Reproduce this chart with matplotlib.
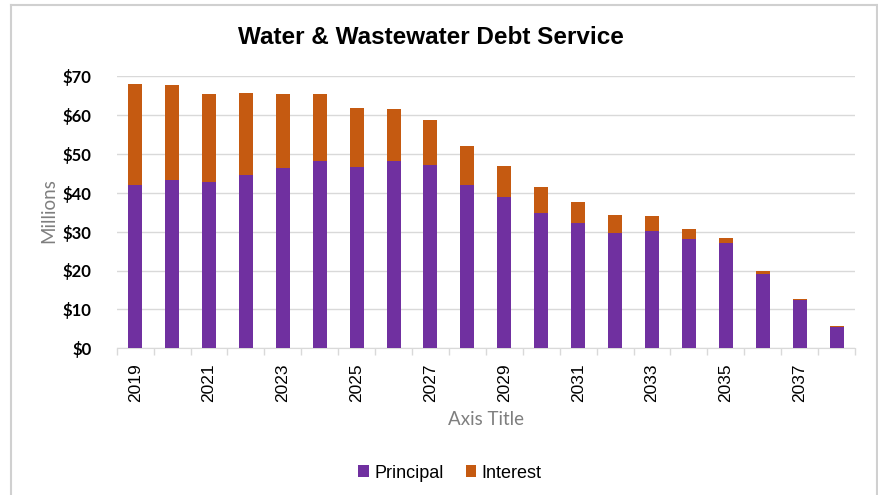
import matplotlib
matplotlib.use("Agg")
from matplotlib import pyplot as plt
from matplotlib.lines import Line2D
import numpy as np

years = list(range(2019, 2039))
principal = [42.1, 43.3, 42.8, 44.6, 46.4, 48.2, 46.7, 48.2, 47.2, 42.1,
             38.8, 34.7, 32.1, 29.6, 30.2, 28.2, 27.0, 19.0, 12.4, 5.5]
interest = [25.8, 24.4, 22.6, 21.0, 19.0, 17.2, 15.1, 13.4, 11.6, 10.0,
            8.1, 6.8, 5.6, 4.6, 3.7, 2.5, 1.4, 1.0, 0.4, 0.2]

purple = '#7030A0'
orange = '#C55A11'
grid_c = '#d9d9d9'

fig = plt.figure(figsize=(8.79, 4.95), dpi=100)
ax = fig.add_axes([116.7/879, 1-348.3/495, (855-116.7)/879, (348.3-76)/495])

x = np.arange(len(years))
ax.bar(x, principal, width=0.38, color=purple, label='Principal', zorder=3)
ax.bar(x, interest, width=0.38, bottom=principal, color=orange, label='Interest', zorder=3)

ax.set_xlim(-0.5, len(years) - 0.5)
ax.set_ylim(0, 70)
ax.set_yticks(np.arange(0, 71, 10))
ax.set_yticklabels(['$%d' % v for v in range(0, 71, 10)],
                   fontfamily='Lato', fontweight='bold', fontsize=12)
ax.yaxis.grid(True, color=grid_c, linewidth=1, zorder=0)
ax.tick_params(axis='y', length=0, pad=18)

ax.set_xticks(x[::2])
ax.set_xticklabels([str(y) for y in years[::2]], rotation=90,
                   fontfamily='Liberation Sans', fontsize=12.5)
ax.set_xticks(np.arange(-0.5, len(years), 1), minor=True)
ax.tick_params(axis='x', which='major', length=0, pad=11)
ax.tick_params(axis='x', which='minor', length=5, color=grid_c, width=1)

for s in ['top', 'right', 'left']:
    ax.spines[s].set_visible(False)
ax.spines['bottom'].set_color(grid_c)

ax.set_ylabel('Millions', fontfamily='Lato', fontsize=13.5, color='#7f7f7f', va='center')
ax.yaxis.set_label_coords((49 - 116.7) / 738.3, 0.504)
ax.set_xlabel('Axis Title', fontfamily='Lato', fontsize=13.5, color='#7f7f7f', labelpad=6)

fig.text(431/879, 1-38/495, 'Water & Wastewater Debt Service', ha='center', va='center',
         fontfamily='Liberation Sans', fontweight='bold', fontsize=17.5)

fig.legend(loc='center', bbox_to_anchor=(450/879, 1-473/495), ncol=2, frameon=False,
           prop={'family': 'Liberation Sans', 'size': 13},
           handlelength=0.6, handleheight=0.6, handletextpad=0.3, columnspacing=1.2)

# chart border
bc = '#d0d0d0'
fig.add_artist(Line2D([11/879, 11/879], [0, 1-5/495], color=bc, lw=1.5, transform=fig.transFigure))
fig.add_artist(Line2D([877/879, 877/879], [0, 1-5/495], color=bc, lw=1.5, transform=fig.transFigure))
fig.add_artist(Line2D([11/879, 877/879], [1-5/495, 1-5/495], color=bc, lw=1.5, transform=fig.transFigure))

plt.savefig('out.png', dpi=100)
